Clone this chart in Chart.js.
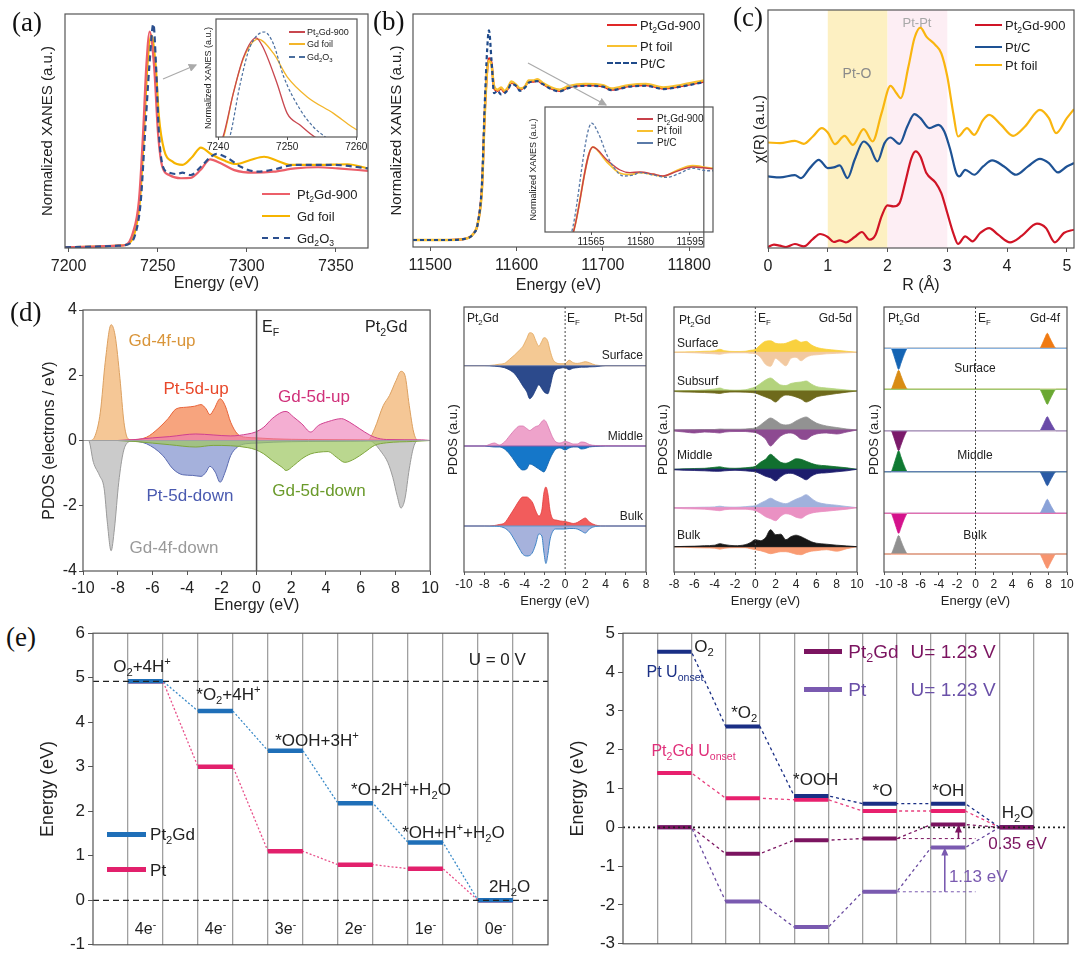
<!DOCTYPE html>
<html><head><meta charset="utf-8">
<script src="https://cdn.jsdelivr.net/npm/chart.js@4.4.1/dist/chart.umd.min.js"></script>
<style>
body{margin:0;background:#fff;width:1080px;height:962px;position:relative;overflow:hidden;font-family:"Liberation Sans",Arial,sans-serif;}
.c{position:absolute;}
.n{position:absolute;white-space:nowrap;line-height:1;z-index:3;}
.n sub,.n sup{font-size:0.66em;line-height:0;}
.pl{position:absolute;font-family:"Liberation Serif","Times New Roman",serif;font-size:27px;color:#111;line-height:1;z-index:3;}
.lg{position:absolute;height:0;z-index:3;}
</style></head><body>
<svg width="1080" height="962" style="position:absolute;left:0;top:0;pointer-events:none;z-index:4">
<defs><marker id="ah" markerWidth="7" markerHeight="7" refX="6" refY="3.5" orient="auto"><path d="M0,0 L7,3.5 L0,7 z" fill="#aaa"/></marker></defs>
<line x1="163" y1="79" x2="196" y2="65" stroke="#aaa" stroke-width="1.2" marker-end="url(#ah)"/>
<line x1="528" y1="63" x2="606" y2="105" stroke="#aaa" stroke-width="1.2" marker-end="url(#ah)"/>
</svg>
<script>
// ---------- (a) Gd L3-edge XANES ----------
const aTicks = [7200, 7250, 7300, 7350];
const aE_pt = [7198,7215,7228,7232,7236,7239.5,7241.8,7243.6,7245.5,7248,7250.2,7252.6,7256.4,7263,7268.5,7274,7279.4,7285.4,7293,7304,7315,7327,7340,7351,7368];
const aV_pt = [0.003,0.006,0.01,0.013,0.063,0.205,0.49,0.775,0.925,0.775,0.49,0.347,0.312,0.298,0.30,0.333,0.379,0.362,0.333,0.322,0.326,0.34,0.345,0.34,0.33];
const aE_gd = [7198,7215,7228,7233,7237,7240,7242.3,7244.2,7246.4,7248.9,7250.7,7253.6,7258.2,7263.9,7269.5,7274.2,7279.8,7287,7294,7302,7309.7,7317,7324.7,7340,7356.6,7368];
const aV_gd = [0.003,0.006,0.01,0.015,0.063,0.2,0.49,0.775,0.91,0.775,0.561,0.419,0.37,0.355,0.39,0.429,0.402,0.375,0.359,0.376,0.39,0.373,0.355,0.355,0.358,0.34];
const aE_ox = [7198,7215,7228,7233,7237.6,7240.5,7242.9,7245.3,7247.6,7249.1,7250.7,7253,7256.4,7261,7263.9,7268.5,7274.2,7279.8,7283.1,7289.1,7296.6,7306,7315.4,7326.6,7349,7368];
const aV_ox = [0.003,0.006,0.01,0.015,0.063,0.2,0.49,0.775,0.957,0.775,0.49,0.347,0.322,0.316,0.322,0.312,0.347,0.39,0.402,0.385,0.347,0.326,0.336,0.355,0.355,0.34];
// inset
const aiTicks = [7240, 7250, 7260];
const aiE_pt = [7239.7,7240.7,7242.2,7243.7,7245.5,7246.5,7248.5,7250,7251.9,7254,7256];
const aiV_pt = [-0.1,0,0.37,0.68,0.84,0.76,0.46,0.2,0.1,0,-0.05];
const aiE_gd = [7239.7,7240.8,7242.2,7243.7,7245.8,7248,7250,7252.9,7256.7,7259.4,7260.1];
const aiV_gd = [-0.1,0,0.37,0.67,0.83,0.71,0.51,0.34,0.2,0.085,0.06];
const aiE_ox = [7241,7241.7,7243.2,7244.6,7246.7,7248,7249.5,7251.9,7253.8,7255.5,7256.5];
const aiV_ox = [-0.1,0,0.45,0.76,0.89,0.79,0.51,0.23,0.085,0,-0.05];

// ---------- (b) Pt L3-edge XANES ----------
const bTicks = [11500, 11600, 11700, 11800];
const bE = [11480,11500,11520,11540,11550,11555,11560,11563,11566,11568,11571,11574,11578,11582,11586,11590,11594,11600,11604,11610,11614,11620,11624,11630,11640,11650,11660,11680,11700,11710,11730,11750,11770,11790,11817];
const bV_pt = [0.03,0.03,0.03,0.035,0.057,0.1,0.26,0.56,0.76,0.81,0.79,0.68,0.67,0.68,0.665,0.68,0.705,0.69,0.675,0.69,0.71,0.71,0.715,0.70,0.68,0.67,0.685,0.695,0.69,0.675,0.69,0.695,0.68,0.69,0.71];
const bV_foil = [0.03,0.03,0.03,0.035,0.057,0.1,0.25,0.55,0.76,0.80,0.78,0.69,0.675,0.685,0.67,0.685,0.71,0.695,0.68,0.69,0.715,0.715,0.72,0.705,0.685,0.675,0.69,0.70,0.695,0.68,0.695,0.70,0.685,0.695,0.715];
const bV_c = [0.03,0.03,0.03,0.035,0.057,0.1,0.28,0.6,0.85,0.93,0.8,0.66,0.67,0.655,0.66,0.675,0.70,0.69,0.67,0.685,0.705,0.71,0.712,0.70,0.678,0.668,0.682,0.692,0.688,0.673,0.688,0.692,0.678,0.688,0.708];
// inset
const biTicks = [11565, 11580, 11595];
const biE = [11559,11559.6,11565.5,11569.8,11573.8,11576.8,11579.8,11583.8,11586.8,11590.8,11595.8,11600.3,11602];
const biV_pt = [-0.03,0,0.68,0.576,0.496,0.475,0.48,0.464,0.448,0.483,0.52,0.51,0.505];
const biV_foil = [-0.03,0,0.68,0.56,0.47,0.46,0.475,0.46,0.445,0.49,0.53,0.515,0.51];
const biE_c = [11558.5,11559.1,11565.2,11567.2,11569.8,11571.8,11574.8,11577.8,11579.8,11583.8,11587.8,11591.8,11595.8,11600.3,11602];
const biV_c = [-0.03,0,0.87,0.79,0.616,0.52,0.448,0.456,0.475,0.456,0.437,0.469,0.51,0.49,0.49];

// ---------- (c) EXAFS R space ----------
const cTicks = [0, 1, 2, 3, 4, 5];
const cBandPtO = [1, 2];
const cBandPtPt = [2, 3];
const cR_pt = [0,0.1,0.2,0.3,0.45,0.6,0.75,0.87,1.0,1.1,1.2,1.3,1.45,1.57,1.7,1.8,1.9,2.0,2.1,2.2,2.3,2.4,2.47,2.55,2.65,2.8,2.9,3.0,3.1,3.18,3.3,3.42,3.55,3.7,3.85,4.05,4.25,4.5,4.65,4.8,4.95,5.12];
const cV_pt = [0.03,0.10,0.07,0.03,0.12,0.05,0.27,0.42,0.33,0.18,0.23,0.17,0.33,0.48,0.25,0.40,0.95,1.28,1.25,1.35,2.00,2.70,2.90,2.75,2.25,1.97,1.65,1.05,0.45,0.12,0.35,0.20,0.45,0.60,0.40,0.17,0.37,0.73,0.60,0.17,0.45,0.55];
const cR_c = [0,0.2,0.45,0.55,0.7,0.85,1.0,1.1,1.2,1.33,1.45,1.6,1.7,1.83,1.95,2.05,2.2,2.33,2.45,2.55,2.7,2.85,2.95,3.05,3.15,3.2,3.3,3.45,3.6,3.75,3.95,4.15,4.35,4.55,4.7,4.85,5.0,5.12];
const cV_c = [2.15,2.12,2.19,2.10,2.40,2.65,2.40,2.42,2.48,2.10,2.65,3.20,3.05,2.60,3.15,3.32,3.13,3.65,4.02,3.90,3.60,3.70,3.50,2.95,2.25,2.15,2.35,2.20,2.45,2.63,2.45,2.20,2.45,2.68,2.55,2.27,2.45,2.55];
const cR_foil = [0,0.2,0.45,0.6,0.75,0.9,1.0,1.12,1.28,1.42,1.6,1.75,1.9,2.05,2.15,2.22,2.35,2.45,2.55,2.65,2.8,2.9,3.0,3.1,3.18,3.33,3.45,3.6,3.7,3.9,4.1,4.3,4.55,4.7,4.82,5.0,5.12];
const cV_foil = [3.17,3.15,3.22,3.13,3.35,3.60,3.47,3.12,3.37,3.10,3.57,3.20,4.05,4.87,4.65,4.50,5.45,6.30,6.62,6.35,6.10,5.85,5.15,4.05,3.35,3.60,3.40,3.85,4.00,3.70,3.37,3.65,4.15,3.90,3.45,3.90,4.17];

// ---------- (d) PDOS of Pt2Gd ----------
const dTicksX = [-10,-8,-6,-4,-2,0,2,4,6,8,10];
const dTicksY = [-4,-2,0,2,4];
const dE_4fu = [-10,-9.6,-9.3,-9.0,-8.72,-8.38,-8.15,-7.87,-7.64,-7.4,-7.0,6.4,6.8,7.3,7.66,8.04,8.32,8.55,8.8,9.05,9.3,10];
const dV_4fu = [0,0,0.15,0.87,2.4,3.55,3.22,1.9,0.56,0.05,0,0,0.36,1.07,1.38,1.84,2.12,2.0,1.07,0.26,0,0];
const dE_4fd = [-10,-9.68,-9.4,-9.05,-8.78,-8.6,-8.38,-8.19,-7.94,-7.68,-7.4,-7.0,6.4,6.7,7.2,7.56,7.85,8.1,8.32,8.55,8.8,9.05,9.3,10];
const dV_4fd = [0,0,-0.67,-1.07,-1.48,-2.5,-3.38,-2.71,-1.28,-0.36,-0.05,0,0,-0.05,-0.36,-0.67,-1.13,-1.69,-2.07,-1.79,-0.87,-0.2,0,0];
const dE_ptu = [-8,-7.3,-6.34,-5.68,-5.1,-4.63,-4.06,-3.58,-3.2,-2.91,-2.69,-2.44,-2.1,-1.81,-1.49,-1.1,-0.63,0,1,3,6,8];
const dV_ptu = [0,0.01,0.1,0.36,0.67,0.97,1.02,1.05,1.1,0.97,0.79,0.97,1.28,1.07,0.56,0.2,0.1,0.08,0.05,0.03,0.02,0];
const dE_ptd = [-8,-7.3,-6.34,-5.4,-4.82,-4.25,-3.68,-3.2,-2.91,-2.69,-2.38,-2.1,-1.81,-1.49,-1.1,-0.63,0,1,3,6,8];
const dV_ptd = [0,-0.01,-0.1,-0.46,-0.87,-1.05,-1.07,-1.1,-0.97,-0.79,-0.97,-1.28,-0.97,-0.46,-0.2,-0.1,-0.08,-0.05,-0.03,-0.02,0];
const dE_gdu = [-8,-7,-6,-5,-3.5,-2.5,-1.5,-0.5,-0.06,0.42,0.9,1.47,1.7,2.13,2.61,3.12,3.56,4.13,4.9,5.09,5.66,6.23,6.8,7.5,9.5,10];
const dV_gdu = [0,0.03,0.08,0.12,0.2,0.17,0.14,0.2,0.26,0.41,0.67,0.87,0.89,0.72,0.51,0.26,0.46,0.58,0.67,0.64,0.46,0.26,0.1,0.03,0.02,0];
const dE_gdd = [-8,-7,-6,-5,-3.5,-2.5,-1.5,-0.5,-0.06,0.42,0.9,1.47,1.7,2.13,2.61,3.12,3.56,4.13,4.6,5.09,5.66,6.23,6.8,7.5,9,10];
const dV_gdd = [0,-0.03,-0.08,-0.13,-0.2,-0.15,-0.16,-0.22,-0.28,-0.41,-0.61,-0.82,-0.92,-0.77,-0.56,-0.41,-0.36,-0.34,-0.51,-0.67,-0.56,-0.36,-0.15,-0.07,-0.03,0];

// Pt-5d layer panel
const d2Ticks = [-10,-8,-6,-4,-2,0,2,4,6,8];
const d2Base = [20.63, 12.6, 4.6];
const d2E = [-10,-8,-7,-6.5,-6,-5.5,-5,-4.5,-4.2,-3.8,-3.5,-3.2,-2.9,-2.6,-2.3,-2.1,-1.9,-1.7,-1.5,-1.2,-0.9,-0.5,0,0.4,0.8,1.2,1.6,2,2.4,3,4,8];
const d2SurfUp = [0,0,0.07,0.15,0.23,0.63,1.07,1.57,1.9,2.7,3.3,3.2,2.5,1.95,2.45,2.8,2.75,2.4,1.57,0.63,0.3,0.2,0.2,0.55,0.3,0.23,0.3,0.4,0.3,0.07,0,0];
const d2SurfDn = [0,0,-0.05,-0.1,-0.2,-0.43,-0.8,-1.5,-2.0,-2.6,-3.3,-3.0,-2.4,-1.9,-2.3,-2.6,-2.75,-2.8,-2.2,-0.9,-0.4,-0.25,-0.2,-0.4,-0.25,-0.2,-0.15,-0.15,-0.12,-0.1,0,0];
const d2MidUp = [0,0,0.3,0.1,0.4,1.0,1.6,2.0,2.0,1.75,1.55,1.75,1.95,2.05,2.45,2.6,2.45,2.0,1.5,0.8,0.4,0.3,0.45,0.35,0.2,0.2,0.4,0.35,0.15,0.05,0.03,0];
const d2MidDn = [0,0,-0.1,-0.1,-0.3,-0.8,-1.5,-2.2,-2.4,-2.3,-1.8,-1.9,-2.1,-2.3,-2.5,-2.6,-2.3,-1.8,-1.3,-0.7,-0.3,-0.2,-0.4,-0.2,-0.1,-0.1,-0.3,-0.25,-0.1,-0.05,0,0];
const d2BulkUp = [0,0,0.05,0.15,0.3,1.0,1.8,2.6,2.9,2.9,2.7,2.3,1.5,1.0,1.6,3.3,3.9,3.2,1.6,0.7,0.6,0.5,0.45,0.35,0.25,0.35,0.6,0.8,0.4,0.1,0,0];
const d2BulkDn = [0,0,-0.03,-0.05,-0.2,-0.6,-1.4,-2.3,-2.8,-3.0,-2.95,-2.6,-1.8,-0.8,-1.0,-2.6,-3.75,-2.8,-1.4,-0.5,-0.3,-0.3,-0.3,-0.25,-0.25,-0.3,-0.5,-0.7,-0.3,-0.05,0,0];

// Gd-5d layer panel
const d3Ticks = [-8,-6,-4,-2,0,2,4,6,8,10];
const d3Base = [21.97, 18.1, 14.2, 10.27, 6.43, 2.53];
const d3E = [-8,-7,-6,-5,-4,-3.5,-3,-2,-1,-0.5,0,0.5,1,1.5,2,2.5,3,3.5,4,4.5,5,5.5,6,7,8,9,10];
const d3R1Up = [0,0.03,0.05,0.1,0.15,0.3,0.15,0.08,0.1,0.2,0.3,0.75,1.1,1.15,0.9,0.85,0.9,1.1,1.25,1.0,1.1,0.75,0.5,0.3,0.2,0.1,0];
const d3R1Dn = [0,-0.02,-0.05,-0.1,-0.15,-0.2,-0.1,-0.05,-0.05,-0.1,-0.15,-0.5,-1.2,-1.4,-0.6,-1.0,-1.35,-0.6,-0.5,-0.85,-0.5,-0.3,-0.25,-0.15,-0.1,-0.05,0];
const d3R2Up = [0,0.03,0.05,0.1,0.2,0.3,0.15,0.08,0.12,0.25,0.4,0.75,1.1,1.3,0.95,0.6,0.55,0.75,0.85,0.9,1.0,0.7,0.45,0.3,0.2,0.1,0];
const d3R2Dn = [-0.05,-0.1,-0.12,-0.15,-0.2,-0.25,-0.15,-0.1,-0.12,-0.15,-0.2,-0.4,-0.6,-0.8,-1.1,-0.65,-0.4,-0.45,-0.6,-0.8,-1.1,-0.9,-0.6,-0.4,-0.25,-0.12,0];
const d3R3Up = [0,0.02,0.03,0.05,0.05,0.1,0.08,0.08,0.1,0.15,0.2,0.5,0.9,1.2,0.95,0.6,0.5,0.6,0.9,1.15,1.3,1.0,0.7,0.4,0.25,0.1,0];
const d3R3Dn = [-0.1,-0.2,-0.3,-0.2,-0.25,-0.3,-0.2,-0.15,-0.15,-0.2,-0.25,-0.5,-0.9,-1.6,-1.1,-0.6,-0.35,-0.3,-0.5,-0.9,-0.95,-0.6,-0.4,-0.3,-0.4,-0.2,0];
const d3R4Up = [0,0.05,0.08,0.1,0.2,0.25,0.15,0.1,0.15,0.2,0.3,0.7,1.0,1.5,1.1,0.7,0.6,0.8,1.05,1.0,0.8,0.6,0.45,0.35,0.25,0.15,0];
const d3R4Dn = [-0.05,-0.1,-0.12,-0.15,-0.2,-0.2,-0.15,-0.1,-0.15,-0.2,-0.25,-0.45,-0.7,-0.85,-1.15,-0.75,-0.45,-0.4,-0.55,-0.8,-1.05,-0.7,-0.45,-0.35,-0.25,-0.15,0];
const d3R5Up = [0,0.02,0.03,0.05,0.08,0.15,0.08,0.05,0.1,0.15,0.2,0.45,0.7,0.95,0.7,0.5,0.4,0.6,0.85,1.05,1.3,0.95,0.6,0.35,0.25,0.12,0];
const d3R5Dn = [-0.05,-0.1,-0.12,-0.15,-0.25,-0.3,-0.2,-0.15,-0.15,-0.2,-0.3,-0.55,-0.9,-1.1,-1.3,-0.85,-0.6,-0.7,-0.95,-1.05,-0.75,-0.55,-0.45,-0.35,-0.25,-0.15,0];
const d3R6Up = [0,0.03,0.05,0.1,0.15,0.3,0.2,0.1,0.2,0.4,0.7,0.6,0.9,1.7,1.2,1.25,0.7,1.0,1.15,1.0,0.75,0.5,0.35,0.25,0.15,0.08,0];
const d3R6Dn = [-0.02,-0.05,-0.1,-0.12,-0.15,-0.25,-0.15,-0.1,-0.1,-0.2,-0.3,-0.4,-0.55,-0.7,-0.6,-0.5,-0.5,-0.6,-0.75,-0.8,-0.6,-0.45,-0.4,-0.3,-0.45,-0.2,0];

// Gd-4f layer panel
const d4Ticks = [-10,-8,-6,-4,-2,0,2,4,6,8,10];
const d4Base = [22.37, 18.27, 14.13, 10.03, 5.87, 1.8];
const d4E = [-10,-9.25,-8.95,-8.65,-8.4,-8.15,-7.8,-7.4,7.0,7.3,7.6,7.85,8.1,8.45,8.8,10];
const d4R1Up = [0,0,0,0,0,0,0,0,0,0.45,1.08,1.5,1.08,0.45,0,0];
const d4R1Dn = [0,0,-0.63,-1.5,-2.1,-1.5,-0.63,0,0,0,0,0,0,0,0,0];
const d4R2Up = [0,0,0.57,1.37,1.9,1.37,0.57,0,0,0,0,0,0,0,0,0];
const d4R2Dn = [0,0,0,0,0,0,0,0,0,-0.45,-1.08,-1.5,-1.08,-0.45,0,0];
const d4R3Up = [0,0,0,0,0,0,0,0,0,0.42,1.0,1.4,1.0,0.42,0,0];
const d4R3Dn = [0,0,-0.6,-1.44,-2.0,-1.44,-0.6,0,0,0,0,0,0,0,0,0];
const d4R4Up = [0,0,0.63,1.5,2.1,1.5,0.63,0,0,0,0,0,0,0,0,0];
const d4R4Dn = [0,0,0,0,0,0,0,0,0,-0.42,-1.0,-1.4,-1.0,-0.42,0,0];
const d4R5Up = [0,0,0,0,0,0,0,0,0,0.42,1.0,1.4,1.0,0.42,0,0];
const d4R5Dn = [0,0,-0.6,-1.44,-2.0,-1.44,-0.6,0,0,0,0,0,0,0,0,0];
const d4R6Up = [0,0,0.55,1.33,1.85,1.33,0.55,0,0,0,0,0,0,0,0,0];
const d4R6Dn = [0,0,0,0,0,0,0,0,0,-0.44,-1.05,-1.45,-1.05,-0.44,0,0];

// ---------- (e) ORR free-energy diagrams ----------
const eGrid = [1,2,3,4,5,6,7,8,9,10,11,12];
const eLTicks = [-1,0,1,2,3,4,5,6];
const eRTicks = [-3,-2,-1,0,1,2,3,4,5];
const eSteps = ['4e<sup>-</sup>','4e<sup>-</sup>','3e<sup>-</sup>','2e<sup>-</sup>','1e<sup>-</sup>','0e<sup>-</sup>'];
const eL_Pt2Gd = [4.92, 4.25, 3.36, 2.18, 1.3, 0];
const eL_Pt = [4.92, 3.0, 1.1, 0.8, 0.71, 0];
const eL_Ref = [4.92, 0];
const eR_PtOnset = [4.52, 2.6, 0.81, 0.61, 0.61, 0];
const eR_Pt2GdOnset = [1.4, 0.75, 0.71, 0.42, 0.42, 0];
const eR_Pt2Gd = [0, -0.68, -0.33, -0.29, 0.07, 0];
const eR_Pt = [0, -1.91, -2.57, -1.66, -0.52, 0];

// ---------- helpers ----------
Chart.defaults.font.family = '"Liberation Sans", Arial, Helvetica, sans-serif';
Chart.defaults.color = '#333';

const frame = {
  id: 'frame',
  afterDraw(c) {
    const a = c.chartArea, x = c.ctx;
    x.save(); x.strokeStyle = '#555'; x.lineWidth = 1.2;
    x.strokeRect(a.left, a.top, a.right - a.left, a.bottom - a.top); x.restore();
  }
};

function guide(g) {
  return {
    id: 'guides',
    beforeDatasetsDraw(c) {
      const ctx = c.ctx, xs = c.scales.x, ar = c.chartArea;
      (g.bands || []).forEach(b => {
        const x0 = xs.getPixelForValue(b[0]), x1 = xs.getPixelForValue(b[1]);
        ctx.fillStyle = b[2]; ctx.fillRect(x0, ar.top, x1 - x0, ar.bottom - ar.top);
      });
    },
    afterDatasetsDraw(c) {
      const ctx = c.ctx, xs = c.scales.x, ys = c.scales.y, ar = c.chartArea;
      ctx.save();
      (g.hl || []).forEach(h => {
        const y = ys.getPixelForValue(h.y);
        const x0 = h.x0 == null ? ar.left : xs.getPixelForValue(h.x0);
        const x1 = h.x1 == null ? ar.right : xs.getPixelForValue(h.x1);
        ctx.strokeStyle = h.c; ctx.lineWidth = h.w || 1; ctx.setLineDash(h.dash || []);
        ctx.beginPath(); ctx.moveTo(x0, y); ctx.lineTo(x1, y); ctx.stroke();
      });
      (g.vl || []).forEach(v => {
        const x = xs.getPixelForValue(v.x);
        ctx.strokeStyle = v.c; ctx.lineWidth = v.w || 1; ctx.setLineDash(v.dash || []);
        ctx.beginPath(); ctx.moveTo(x, ar.top); ctx.lineTo(x, ar.bottom); ctx.stroke();
      });
      (g.arrows || []).forEach(r => {
        const x = xs.getPixelForValue(r.x), y0 = ys.getPixelForValue(r.from), y1 = ys.getPixelForValue(r.to);
        ctx.setLineDash([]); ctx.strokeStyle = r.c; ctx.fillStyle = r.c; ctx.lineWidth = 1.6;
        ctx.beginPath(); ctx.moveTo(x, y0); ctx.lineTo(x, y1 + 6); ctx.stroke();
        ctx.beginPath(); ctx.moveTo(x, y1); ctx.lineTo(x - 3.5, y1 + 8); ctx.lineTo(x + 3.5, y1 + 8); ctx.closePath(); ctx.fill();
      });
      ctx.restore();
    }
  };
}

function lin(min, max, ticks, o) {
  o = o || {};
  return {
    type: 'linear', min: min, max: max,
    afterBuildTicks: s => { s.ticks = ticks.map(v => ({value: v})); },
    ticks: {display: !!o.labels, autoSkip: false, maxRotation: 0, padding: o.pad == null ? 4 : o.pad,
      font: {size: o.fs || 14}, color: '#222', callback: v => String(v)},
    grid: {display: o.grid !== false, drawOnChartArea: !!o.area, drawTicks: o.tl !== 0,
      tickLength: o.tl == null ? 4 : o.tl, color: o.gc || '#555', lineWidth: o.gw || 1},
    border: {display: false},
    title: {display: !!o.title, text: o.title || '', font: {size: o.ts || 15}, color: '#222', padding: 0}
  };
}

function ds(xs, ys, color, o) {
  o = o || {};
  const base = o.base || 0;
  return {
    data: xs.map((x, i) => ({x: x, y: ys[i] + base})),
    borderColor: color, borderWidth: o.w == null ? 1.8 : o.w,
    borderDash: o.dash || [], backgroundColor: o.fill || 'rgba(0,0,0,0)',
    fill: o.fill ? {value: base} : false, order: o.order || 0
  };
}

function mk(l, t, w, h, m, datasets, sx, sy, g) {
  const W = w + m[0] + m[2], H = h + m[1] + m[3];
  const d = document.createElement('div'); d.className = 'c';
  d.style.left = (l - m[0]) + 'px'; d.style.top = (t - m[1]) + 'px';
  d.style.width = W + 'px'; d.style.height = H + 'px';
  const cv = document.createElement('canvas'); cv.width = W; cv.height = H;
  cv.style.width = W + 'px'; cv.style.height = H + 'px';
  d.appendChild(cv); document.body.appendChild(d);
  sx.afterFit = s => { s.height = m[3]; };
  sy.afterFit = s => { s.width = m[0]; };
  const ch = new Chart(cv, {
    type: 'line', data: {datasets: datasets},
    options: {
      responsive: false, animation: false, events: [],
      layout: {padding: {left: 0, top: m[1], right: m[2], bottom: 0}},
      elements: {point: {radius: 0}, line: {borderWidth: 1.5, cubicInterpolationMode: 'monotone'}},
      plugins: {legend: {display: false}, tooltip: {enabled: false}},
      scales: {x: sx, y: sy}
    },
    plugins: [frame, guide(g || {})]
  });
  ch.ox = l - m[0]; ch.oy = t - m[1];
  return ch;
}

function note(x, y, html, o) {
  o = o || {};
  const d = document.createElement('div'); d.className = 'n'; d.innerHTML = html;
  d.style.left = x + 'px'; d.style.top = y + 'px';
  d.style.fontSize = (o.fs || 14) + 'px'; d.style.color = o.c || '#222';
  const tx = {l: '0', c: '-50%', r: '-100%'}[o.a || 'l'];
  d.style.transform = 'translate(' + tx + ',-50%)';
  document.body.appendChild(d);
}
function noteAt(ch, x, y, html, o) {
  note(ch.ox + ch.scales.x.getPixelForValue(x), ch.oy + ch.scales.y.getPixelForValue(y), html, o);
}
function key(x0, x1, y, color, w, dash) {
  const d = document.createElement('div'); d.className = 'lg';
  d.style.left = x0 + 'px'; d.style.top = (y - w / 2) + 'px'; d.style.width = (x1 - x0) + 'px';
  d.style.borderTop = w + 'px ' + (dash ? 'dashed' : 'solid') + ' ' + color;
  document.body.appendChild(d);
}
function plabel(x, y, s) {
  const d = document.createElement('div'); d.className = 'pl'; d.textContent = s;
  d.style.left = x + 'px'; d.style.top = y + 'px'; d.style.transform = 'translateY(-50%)';
  document.body.appendChild(d);
}

// ---------- (a) ----------
mk(65, 14, 303, 234, [26, 10, 4, 45], [
  ds(aE_ox, aV_ox, '#2b4f8e', {w: 2.2, dash: [6, 4], order: 0}),
  ds(aE_pt, aV_pt, '#ec5f69', {w: 2.2, order: 1}),
  ds(aE_gd, aV_gd, '#f6b400', {w: 2.2, order: 2})
], lin(7198, 7368, aTicks, {labels: true, fs: 16, pad: 5, title: 'Energy (eV)', ts: 16}),
   lin(0, 1, [0], {grid: false, title: 'Normalized XANES (a.u.)', ts: 15}));
mk(216, 19, 141, 118, [13, 2, 12, 16], [
  ds(aiE_ox, aiV_ox, '#4a6e9e', {w: 1.2, dash: [3, 2], order: 0}),
  ds(aiE_pt, aiV_pt, '#c8474f', {w: 1.3, order: 1}),
  ds(aiE_gd, aiV_gd, '#f3b52a', {w: 1.3, order: 2})
], lin(7239.7, 7260.1, aiTicks, {labels: true, fs: 10, pad: 1, tl: 3}),
   lin(0, 1, [0], {grid: false, title: 'Normalized XANES (a.u.)', ts: 9}));
plabel(12, 22, '(a)');
key(262, 290, 194, '#ec5f69', 2.5); note(297, 194, 'Pt<sub>2</sub>Gd-900', {fs: 13});
key(262, 290, 216, '#f6b400', 2.5); note(297, 216, 'Gd foil', {fs: 13});
key(262, 290, 238, '#2b4f8e', 2.5, true); note(297, 238, 'Gd<sub>2</sub>O<sub>3</sub>', {fs: 13});
key(289, 305, 32, '#c8474f', 2); note(307, 32, 'Pt<sub>2</sub>Gd-900', {fs: 9});
key(289, 305, 44, '#f3b52a', 2); note(307, 44, 'Gd foil', {fs: 9});
key(289, 305, 57, '#4a6e9e', 2, true); note(307, 57, 'Gd<sub>2</sub>O<sub>3</sub>', {fs: 9});

// ---------- (b) ----------
mk(413, 14, 299, 233, [25, 10, 4, 48], [
  ds(bE, bV_c, '#1f4a8a', {w: 2.2, dash: [4, 3], order: 0}),
  ds(bE, bV_foil, '#f8c030', {w: 2.4, order: 1}),
  ds(bE, bV_pt, '#e02828', {w: 2.2, order: 2})
], lin(11480, 11817, bTicks, {labels: true, fs: 16, pad: 5, title: 'Energy (eV)', ts: 16}),
   lin(0, 1, [0], {grid: false, title: 'Normalized XANES (a.u.)', ts: 15}));
mk(545, 107, 168, 125, [17, 2, 4, 16], [
  ds(biE_c, biV_c, '#5a7aa8', {w: 1.3, dash: [3, 2], order: 0}),
  ds(biE, biV_pt, '#c8404a', {w: 1.4, order: 1}),
  ds(biE, biV_foil, '#f8c030', {w: 1.8, order: 2})
], lin(11551, 11602, biTicks, {labels: true, fs: 10, pad: 1, tl: 3}),
   lin(0, 1, [0], {grid: false, title: 'Normalized XANES (a.u.)', ts: 9}));
plabel(373, 21, '(b)');
key(607, 637, 25, '#e02828', 2.5); note(640, 25, 'Pt<sub>2</sub>Gd-900', {fs: 13});
key(607, 637, 46, '#f8c030', 2.5); note(640, 46, 'Pt foil', {fs: 13});
key(607, 637, 63, '#1f4a8a', 2.5, true); note(640, 63, 'Pt/C', {fs: 13});
key(637, 653, 119, '#c8404a', 2); note(657, 119, 'Pt<sub>2</sub>Gd-900', {fs: 10});
key(637, 653, 131, '#f8c030', 2.2); note(657, 131, 'Pt foil', {fs: 10});
key(637, 653, 143, '#5a7aa8', 2); note(657, 143, 'Pt/C', {fs: 10});

// ---------- (c) ----------
mk(768, 10, 306, 238, [17, 8, 5, 47], [
  ds(cR_pt, cV_pt, '#d01426', {w: 2.2}),
  ds(cR_c, cV_c, '#1e5294', {w: 2.2}),
  ds(cR_foil, cV_foil, '#f9b50f', {w: 2.2})
], lin(0, 5.12, cTicks, {labels: true, fs: 16, pad: 5, title: 'R (Å)', ts: 16}),
   lin(0, 7.15, [0], {grid: false, title: 'χ(R) (a.u.)', ts: 15}),
   {bands: [[cBandPtO[0], cBandPtO[1], '#fdf0c2'], [cBandPtPt[0], cBandPtPt[1], '#fdeef4']]});
plabel(733, 17, '(c)');
note(857, 73, 'Pt-O', {fs: 14, c: '#8a8a8a', a: 'c'});
note(917, 22, 'Pt-Pt', {fs: 13, c: '#a8a8a8', a: 'c'});
key(975, 1002, 25, '#d01426', 2.5); note(1005, 25, 'Pt<sub>2</sub>Gd-900', {fs: 13});
key(975, 1002, 47, '#1e5294', 2.5); note(1005, 47, 'Pt/C', {fs: 13});
key(975, 1002, 65, '#f9b50f', 2.5); note(1005, 65, 'Pt foil', {fs: 13});

// ---------- (d) main ----------
mk(83, 310, 350, 261, [43, 12, 10, 44], [
  ds(dE_gdu, dV_gdu, '#d04090', {w: 1, fill: 'rgba(236,120,180,0.6)', order: 1}),
  ds(dE_gdd, dV_gdd, '#7fa63e', {w: 1, fill: 'rgba(160,200,100,0.72)', order: 1}),
  ds(dE_ptu, dV_ptu, '#e8643a', {w: 1, fill: '#f7a47e', order: 2}),
  ds(dE_ptd, dV_ptd, '#5a6ab0', {w: 1, fill: '#a5b1dc', order: 2}),
  ds(dE_4fu, dV_4fu, '#dca060', {w: 1, fill: '#f5c796', order: 3}),
  ds(dE_4fd, dV_4fd, '#9a9a9a', {w: 1, fill: '#cbcbcb', order: 3})
], lin(-10, 10, dTicksX, {labels: true, fs: 16, pad: 4, title: 'Energy (eV)', ts: 16}),
   lin(-4, 4, dTicksY, {labels: true, fs: 16, pad: 2, title: 'PDOS (electrons / eV)', ts: 16}),
   {hl: [{y: 0, c: '#a0a0a0', w: 1}], vl: [{x: 0, c: '#555', w: 1.5}]});
plabel(10, 312, '(d)');
note(262, 327, 'E<sub>F</sub>', {fs: 16});
note(365, 327, 'Pt<sub>2</sub>Gd', {fs: 16});
note(162, 340, 'Gd-4f-up', {fs: 17, c: '#d9953a', a: 'c'});
note(196, 388, 'Pt-5d-up', {fs: 17, c: '#e8482a', a: 'c'});
note(314, 396, 'Gd-5d-up', {fs: 17, c: '#d0307a', a: 'c'});
note(190, 495, 'Pt-5d-down', {fs: 17, c: '#4a5ab0', a: 'c'});
note(319, 490, 'Gd-5d-down', {fs: 17, c: '#6a9a2a', a: 'c'});
note(174, 547, 'Gd-4f-down', {fs: 17, c: '#9a9a9a', a: 'c'});

// ---------- (d) Pt-5d layers ----------
mk(464, 307, 182, 265, [18, 6, 10, 37], [
  ds(d2E, d2SurfUp, '#e2a65a', {w: 0.8, fill: '#f4c994', base: d2Base[0]}),
  ds(d2E, d2SurfDn, '#1c3a7c', {w: 0.8, fill: '#2c4a8c', base: d2Base[0]}),
  ds(d2E, d2MidUp, '#d873ad', {w: 0.8, fill: '#eea3cb', base: d2Base[1]}),
  ds(d2E, d2MidDn, '#0f5fa8', {w: 0.8, fill: '#1577c9', base: d2Base[1]}),
  ds(d2E, d2BulkUp, '#e23a3a', {w: 0.8, fill: '#f25c5c', base: d2Base[2]}),
  ds(d2E, d2BulkDn, '#3f84c6', {w: 1, fill: '#a6b2dc', base: d2Base[2]})
], lin(-10, 8, d2Ticks, {labels: true, fs: 12, pad: 2, tl: 3, title: 'Energy (eV)', ts: 13}),
   lin(0, 26.5, [0], {grid: false, title: 'PDOS (a.u.)', ts: 13}),
   {hl: [{y: d2Base[0], c: '#6a7aa8'}, {y: d2Base[1], c: '#8a5aa8'}, {y: d2Base[2], c: '#5a9ad0'}],
    vl: [{x: 0, c: '#444', w: 1, dash: [2, 2]}]});
note(467, 318, 'Pt<sub>2</sub>Gd', {fs: 12});
note(567, 318, 'E<sub>F</sub>', {fs: 12});
note(643, 318, 'Pt-5d', {fs: 12, a: 'r'});
note(643, 355, 'Surface', {fs: 12, a: 'r'});
note(643, 436, 'Middle', {fs: 12, a: 'r'});
note(643, 516, 'Bulk', {fs: 12, a: 'r'});

// ---------- (d) Gd-5d layers ----------
const d3Cols = [['#f9d13e', '#f2c9a0'], ['#b3d37c', '#6e6a1c'], ['#929292', '#8d4a91'], ['#11702f', '#1d1d6d'], ['#a0b1dc', '#ea91c3'], ['#161616', '#f99b72']];
const d3Up = [d3R1Up, d3R2Up, d3R3Up, d3R4Up, d3R5Up, d3R6Up];
const d3Dn = [d3R1Dn, d3R2Dn, d3R3Dn, d3R4Dn, d3R5Dn, d3R6Dn];
const d3Sets = [];
d3Base.forEach((b, i) => {
  d3Sets.push(ds(d3E, d3Up[i], d3Cols[i][0], {w: 0.8, fill: d3Cols[i][0], base: b}));
  d3Sets.push(ds(d3E, d3Dn[i], d3Cols[i][1], {w: 0.8, fill: d3Cols[i][1], base: b}));
});
mk(674, 307, 183, 265, [18, 6, 10, 37], d3Sets,
   lin(-8, 10, d3Ticks, {labels: true, fs: 12, pad: 2, tl: 3, title: 'Energy (eV)', ts: 13}),
   lin(0, 26.5, [0], {grid: false, title: 'PDOS (a.u.)', ts: 13}),
   {hl: d3Base.map((b, i) => ({y: b, c: d3Cols[i][i === 5 ? 0 : 1], w: 1})),
    vl: [{x: 0, c: '#444', w: 1, dash: [2, 2]}]});
note(679, 320, 'Pt<sub>2</sub>Gd', {fs: 12});
note(758, 318, 'E<sub>F</sub>', {fs: 12});
note(852, 318, 'Gd-5d', {fs: 12, a: 'r'});
note(677, 343, 'Surface', {fs: 12});
note(677, 381, 'Subsurf', {fs: 12});
note(677, 455, 'Middle', {fs: 12});
note(677, 535, 'Bulk', {fs: 12});

// ---------- (d) Gd-4f layers ----------
const d4Cols = [['#f07a12', '#1464b4', '#8ab4e0'], ['#d98c14', '#6aa832', '#a0c870'], ['#6a4aa8', '#7a1a6a', '#b0a0c0'],
                ['#0f7a32', '#2a5aa6', '#6080b0'], ['#8aa2d8', '#d4128c', '#e070b0'], ['#909090', '#f8946e', '#f8a080']];
const d4Up = [d4R1Up, d4R2Up, d4R3Up, d4R4Up, d4R5Up, d4R6Up];
const d4Dn = [d4R1Dn, d4R2Dn, d4R3Dn, d4R4Dn, d4R5Dn, d4R6Dn];
const d4Sets = [];
d4Base.forEach((b, i) => {
  d4Sets.push(ds(d4E, d4Up[i], d4Cols[i][0], {w: 0.8, fill: d4Cols[i][0], base: b}));
  d4Sets.push(ds(d4E, d4Dn[i], d4Cols[i][1], {w: 0.8, fill: d4Cols[i][1], base: b}));
});
mk(884, 307, 183, 265, [17, 6, 10, 37], d4Sets,
   lin(-10, 10, d4Ticks, {labels: true, fs: 12, pad: 2, tl: 3, title: 'Energy (eV)', ts: 13}),
   lin(0, 26.5, [0], {grid: false, title: 'PDOS (a.u.)', ts: 13}),
   {hl: d4Base.map((b, i) => ({y: b, c: d4Cols[i][2], w: 1.2})),
    vl: [{x: 0, c: '#444', w: 1, dash: [2, 2]}]});
note(888, 318, 'Pt<sub>2</sub>Gd', {fs: 12});
note(978, 318, 'E<sub>F</sub>', {fs: 12});
note(1060, 318, 'Gd-4f', {fs: 12, a: 'r'});
note(975, 368, 'Surface', {fs: 12, a: 'c'});
note(975, 455, 'Middle', {fs: 12, a: 'c'});
note(975, 535, 'Bulk', {fs: 12, a: 'c'});

// ---------- (e) ----------
function levels(L, color, conn, w, dash, order) {
  const pts = [], bars = [];
  L.forEach((v, k) => {
    pts.push({x: 2 * k + 1, y: v}, {x: 2 * k + 2, y: v});
    bars.push({x: 2 * k + 1, y: v}, {x: 2 * k + 2, y: v}, {x: 2 * k + 2.5, y: null});
  });
  return [
    {data: bars, borderColor: color, borderWidth: w, order: order, spanGaps: false, cubicInterpolationMode: 'default', tension: 0, borderCapStyle: 'butt'},
    {data: pts, borderColor: conn, borderWidth: 1.3, borderDash: dash, order: order + 10, cubicInterpolationMode: 'default', tension: 0}
  ];
}

const eL = mk(93, 632, 455, 316, [56, 12, 4, 10],
  [].concat(levels(eL_Pt2Gd, '#1f6fb8', '#3a8ac8', 4.5, [2, 2], 1), levels(eL_Pt, '#e2206c', '#e8508a', 4.5, [2, 2], 2)),
  lin(0, 13, eGrid, {grid: true, area: true, tl: 0, gc: '#a0a0a0', gw: 1.3}),
  lin(-1, 6, eLTicks, {labels: true, fs: 17, pad: 3, tl: 5, title: 'Energy (eV)', ts: 18}),
  {hl: eL_Ref.map(v => ({y: v, c: '#222', w: 1.3, dash: [6, 4]}))});
plabel(6, 637, '(e)');
noteAt(eL, 1.4, 5.27, 'O<sub>2</sub>+4H<sup>+</sup>', {fs: 17, a: 'c'});
noteAt(eL, 3.87, 4.64, '*O<sub>2</sub>+4H<sup>+</sup>', {fs: 17, a: 'c'});
noteAt(eL, 6.4, 3.6, '*OOH+3H<sup>+</sup>', {fs: 17, a: 'c'});
noteAt(eL, 8.8, 2.5, '*O+2H<sup>+</sup>+H<sub>2</sub>O', {fs: 17, a: 'c'});
noteAt(eL, 10.3, 1.54, '*OH+H<sup>+</sup>+H<sub>2</sub>O', {fs: 17, a: 'c'});
noteAt(eL, 11.9, 0.33, '2H<sub>2</sub>O', {fs: 17, a: 'c'});
noteAt(eL, 11.55, 5.41, 'U = 0 V', {fs: 17, a: 'c'});
eSteps.forEach((s, k) => noteAt(eL, 2 * k + 1.5, -0.64, s, {fs: 16, a: 'c'}));
{
  const xs = eL.scales.x, ys = eL.scales.y;
  key(eL.ox + xs.getPixelForValue(0.4), eL.ox + xs.getPixelForValue(1.5), eL.oy + ys.getPixelForValue(1.48), '#1f6fb8', 5);
  key(eL.ox + xs.getPixelForValue(0.4), eL.ox + xs.getPixelForValue(1.5), eL.oy + ys.getPixelForValue(0.69), '#e2206c', 5);
}
noteAt(eL, 1.63, 1.48, 'Pt<sub>2</sub>Gd', {fs: 17});
noteAt(eL, 1.63, 0.69, 'Pt', {fs: 17});

const eR = mk(623, 632, 445, 315, [56, 12, 4, 10],
  [].concat(levels(eR_Pt2Gd, '#7b1460', '#7b1460', 4, [3, 3], 1),
            levels(eR_PtOnset, '#1a2f85', '#1a2f85', 4, [3, 3], 2),
            levels(eR_Pt2GdOnset, '#e8206e', '#e8407e', 4, [3, 3], 3),
            levels(eR_Pt, '#7a5ab0', '#6a4aa0', 4, [3, 3], 4)),
  lin(0, 13, eGrid, {grid: true, area: true, tl: 0, gc: '#a0a0a0', gw: 1.3}),
  lin(-3, 5, eRTicks, {labels: true, fs: 17, pad: 3, tl: 5, title: 'Energy (eV)', ts: 18}),
  {hl: [{y: 0, c: '#222', w: 1.6, dash: [2, 3]},
        {y: eR_Pt2Gd[3], x0: 8, x1: 10.3, c: '#7b1460', w: 1, dash: [3, 3]},
        {y: eR_Pt[3], x0: 8, x1: 10.3, c: '#7a5ab0', w: 1, dash: [3, 3]}],
   arrows: [{x: 9.8, from: eR_Pt2Gd[3], to: eR_Pt2Gd[4], c: '#7b1460'},
            {x: 9.4, from: eR_Pt[3], to: eR_Pt[4], c: '#7a5ab0'}]});
noteAt(eR, 2.08, 4.67, 'O<sub>2</sub>', {fs: 17});
noteAt(eR, 1.52, 3.99, 'Pt U<sub>onset</sub>', {fs: 16, c: '#1a2f85', a: 'c'});
noteAt(eR, 3.54, 2.98, '*O<sub>2</sub>', {fs: 17, a: 'c'});
noteAt(eR, 2.06, 1.96, 'Pt<sub>2</sub>Gd U<sub>onset</sub>', {fs: 16, c: '#e0307a', a: 'c'});
noteAt(eR, 5.63, 1.24, '*OOH', {fs: 17, a: 'c'});
noteAt(eR, 7.58, 0.96, '*O', {fs: 17, a: 'c'});
noteAt(eR, 9.5, 0.96, '*OH', {fs: 17, a: 'c'});
noteAt(eR, 11.53, 0.4, 'H<sub>2</sub>O', {fs: 17, a: 'c'});
noteAt(eR, 10.67, -0.41, '0.35 eV', {fs: 17, c: '#7b1460'});
noteAt(eR, 9.52, -1.25, '1.13 eV', {fs: 17, c: '#7a5ab0'});
{
  const xs = eR.scales.x, ys = eR.scales.y;
  key(eR.ox + xs.getPixelForValue(5.3), eR.ox + xs.getPixelForValue(6.4), eR.oy + ys.getPixelForValue(4.53), '#7b1460', 5);
  key(eR.ox + xs.getPixelForValue(5.3), eR.ox + xs.getPixelForValue(6.4), eR.oy + ys.getPixelForValue(3.55), '#7a5ab0', 5);
}
noteAt(eR, 6.58, 4.53, 'Pt<sub>2</sub>Gd', {fs: 19, c: '#7b1460'});
noteAt(eR, 8.4, 4.53, 'U= 1.23 V', {fs: 19, c: '#7b1460'});
noteAt(eR, 6.58, 3.55, 'Pt', {fs: 19, c: '#6a50a8'});
noteAt(eR, 8.4, 3.55, 'U= 1.23 V', {fs: 19, c: '#6a50a8'});
</script>
</body></html>
